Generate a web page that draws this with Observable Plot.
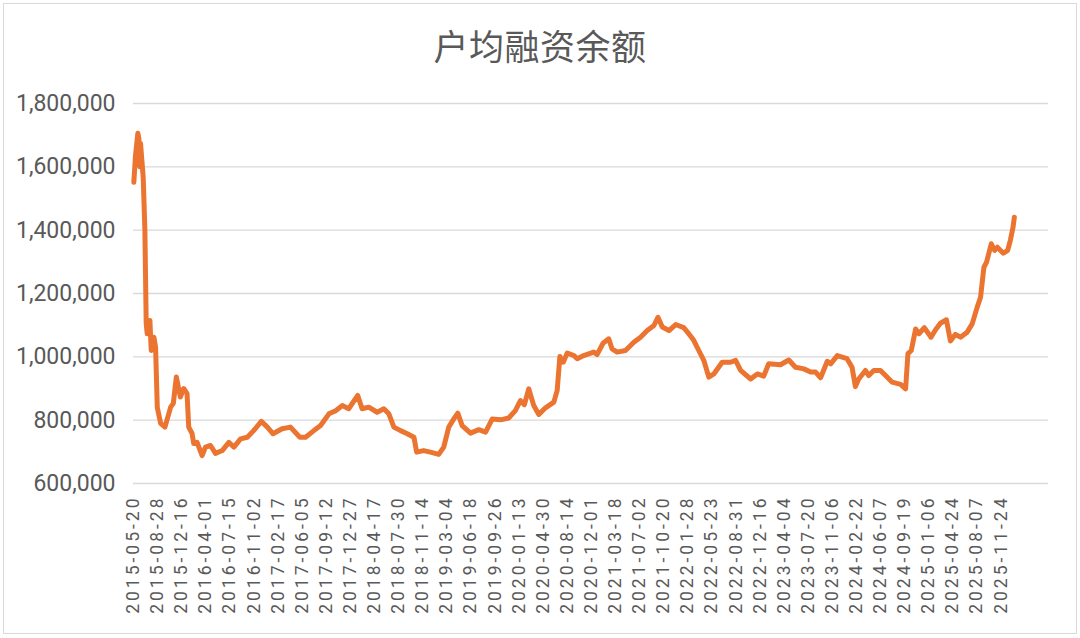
<!DOCTYPE html>
<html>
<head>
<meta charset="utf-8">
<script src="https://cdn.jsdelivr.net/npm/d3@7"></script>
<script src="https://cdn.jsdelivr.net/npm/@observablehq/plot@0.6"></script>
<style>
  body { margin: 0; background: #fff; }
  #chart { position: relative; width: 1080px; height: 638px; }
  #border { position: absolute; left: 3px; top: 3px; width: 1072px; height: 629px; border: 1px solid #d9d9d9; pointer-events: none; }
  #title { position: absolute; left: 0; width: 1080px; top: 19px; text-align: center;
    font-family: "Noto Sans CJK SC", sans-serif; font-size: 35px; color: #595959; letter-spacing: 0.5px; }
  #chart svg { position: absolute; left: 0; top: 0; }
  g[aria-label="x-axis tick label"] text { letter-spacing: 3px; }
</style>
</head>
<body>
<div id="chart">
  <div id="title">户均融资余额</div>
  <div id="border"></div>
</div>
<script>
// x axis is a trading-day index, one label every 72 trading days
const labelStep = 72
const tickLabels = [
  "2015-05-20","2015-08-28","2015-12-16","2016-04-01","2016-07-15","2016-11-02",
  "2017-02-17","2017-06-05","2017-09-12","2017-12-27","2018-04-17","2018-07-30",
  "2018-11-14","2019-03-04","2019-06-18","2019-09-26","2020-01-13","2020-04-30",
  "2020-08-14","2020-12-01","2021-03-18","2021-07-02","2021-10-20","2022-01-28",
  "2022-05-23","2022-08-31","2022-12-16","2023-04-04","2023-07-20","2023-11-06",
  "2024-02-22","2024-06-07","2024-09-19","2025-01-06","2025-04-24","2025-08-07",
  "2025-11-24"
]

// trading-day index of each sampled point
const days = [
  1, 6, 13, 16, 19, 21, 29, 34, 38, 41, 49, 53, 61, 66, 71, 81, 94, 111, 119, 128,
  140, 150, 160, 165, 175, 180, 190, 205, 215, 230, 245, 265, 285, 300, 320, 340,
  359, 382, 400, 417, 444, 469, 497, 514, 539, 559, 584, 604, 624, 643, 670, 683,
  703, 728, 748, 763, 778, 798, 818, 838, 846, 867, 887, 912, 927, 942, 957, 969,
  982, 1007, 1032, 1052, 1072, 1097, 1121, 1141, 1156, 1168, 1181, 1196, 1211, 1231,
  1256, 1266, 1274, 1284, 1296, 1316, 1326, 1345, 1375, 1385, 1403, 1420, 1430, 1445,
  1470, 1495, 1515, 1535, 1555, 1567, 1580, 1600, 1620, 1644, 1659, 1674, 1689, 1704,
  1719, 1734, 1759, 1784, 1799, 1814, 1844, 1864, 1883, 1898, 1933, 1958, 1978, 2003,
  2023, 2038, 2053, 2073, 2083, 2103, 2132, 2147, 2157, 2167, 2187, 2197, 2212, 2232,
  2247, 2267, 2292, 2307, 2314, 2324, 2337, 2347, 2363, 2383, 2396, 2411, 2429, 2441,
  2456, 2471, 2491, 2506, 2521, 2531, 2541, 2549, 2563, 2573, 2581, 2599, 2612, 2620,
  2628, 2632
]

// 户均融资余额
const balances = [
  1551000, 1636000, 1706000, 1690000, 1600000, 1674000, 1567000, 1400000, 1105000, 1073000,
  1115000, 1020000, 1062000, 1030000, 841000, 790000, 778000, 841000, 853000, 936000,
  873000, 900000, 884000, 778000, 758000, 726000, 730000, 688000, 715000, 720000,
  695000, 704000, 730000, 715000, 741000, 746000, 767000, 796000, 778000, 757000,
  773000, 778000, 746000, 746000, 767000, 783000, 820000, 830000, 846000, 836000,
  878000, 836000, 841000, 825000, 836000, 820000, 778000, 767000, 757000, 746000,
  699000, 704000, 699000, 692000, 715000, 778000, 804000, 822000, 783000, 759000,
  770000, 762000, 804000, 801000, 807000, 830000, 862000, 849000, 899000, 846000,
  818000, 839000, 857000, 894000, 1001000, 983000, 1012000, 1004000, 994000, 1004000,
  1015000, 1007000, 1043000, 1057000, 1025000, 1015000, 1020000, 1046000, 1062000, 1083000,
  1099000, 1125000, 1094000, 1083000, 1102000, 1092000, 1073000, 1052000, 1020000, 989000,
  936000, 946000, 983000, 983000, 989000, 957000, 930000, 946000, 939000, 978000,
  975000, 990000, 967000, 962000, 952000, 952000, 934000, 986000, 978000, 1004000,
  994000, 967000, 906000, 930000, 957000, 941000, 957000, 957000, 941000, 920000,
  913000, 899000, 1010000, 1020000, 1088000, 1073000, 1092000, 1062000, 1085000, 1106000,
  1117000, 1050000, 1071000, 1062000, 1078000, 1104000, 1157000, 1188000, 1283000, 1299000,
  1357000, 1336000, 1346000, 1327000, 1336000, 1368000, 1409000, 1441000
]

const yTicks = [600000, 800000, 1000000, 1200000, 1400000, 1600000, 1800000]

const data = days.map((d, i) => ({day: d, value: balances[i]}))

const chart = Plot.plot({
  width: 1080,
  height: 638,
  marginTop: 103,
  marginBottom: 155,
  marginLeft: 133,
  marginRight: 32,
  style: {fontFamily: "Roboto, sans-serif", color: "#595959", background: "transparent", overflow: "visible"},
  x: {domain: [0, 2734]},
  y: {domain: [600000, 1800000]},
  marks: [
    Plot.gridY(yTicks, {stroke: "#d9d9d9", strokeOpacity: 1, strokeWidth: 1.3}),
    Plot.axisY(yTicks, {tickSize: 0, tickPadding: 18, fontSize: 23, tickFormat: d3.format(","), label: null}),
    Plot.axisX(tickLabels.map((_, i) => i * labelStep), {
      tickSize: 0, tickPadding: 12, tickRotate: -90, fontSize: 17.5,
      tickFormat: d => tickLabels[d / labelStep], label: null
    }),
    Plot.lineY(data, {x: "day", y: "value", stroke: "#EB7430", strokeWidth: 5, strokeLinejoin: "round", strokeLinecap: "round"})
  ]
})

document.querySelector('#chart').append(chart)
</script>
</body>
</html>
